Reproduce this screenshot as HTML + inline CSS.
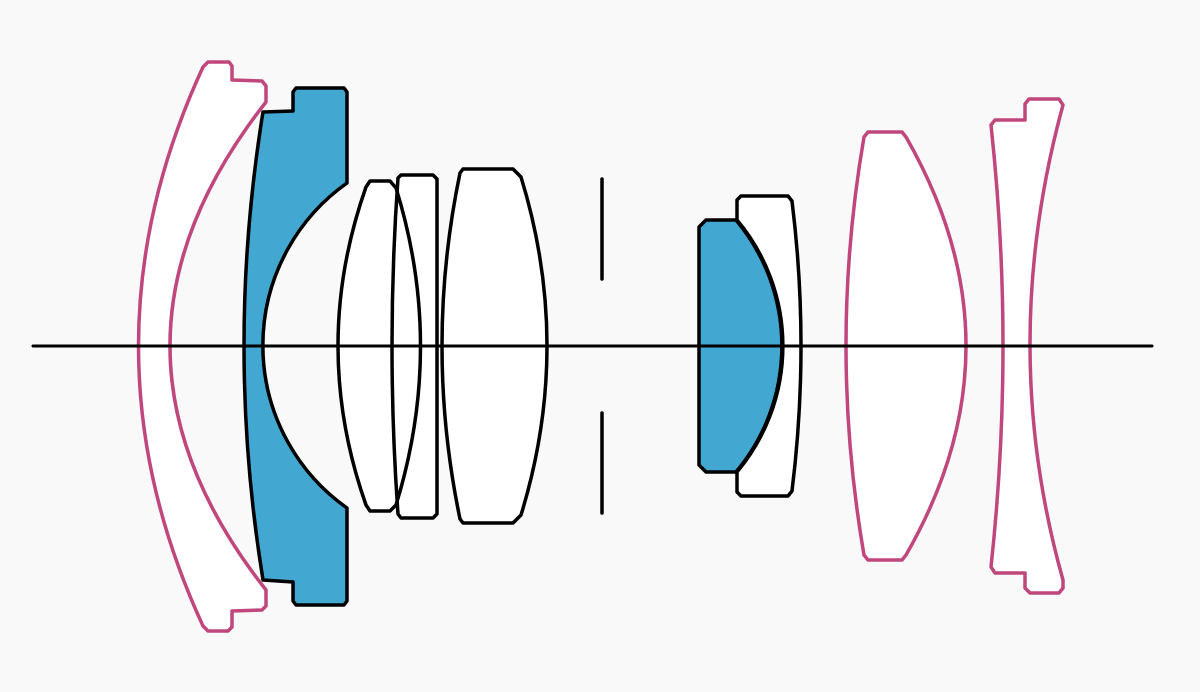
<!DOCTYPE html>
<html><head><meta charset="utf-8"><style>
html,body{margin:0;padding:0;background:#f9f9f9;}
svg{display:block;}
</style></head><body>
<svg width="1200" height="692" viewBox="0 0 1200 692" xmlns="http://www.w3.org/2000/svg">
<rect width="1200" height="692" fill="#f9f9f9"/>
<g stroke-width="3.5" stroke-linejoin="round" fill="#fff">
<!-- Element 1 pink -->
<path stroke="#c0477c" d="M208,62 L229,62 L232,66 L232,80 L262,81 L266,86 L266,102 Q74,346 266,590 L266,606 L262,610 L232,611 L232,627 L228,631 L208,631 L203,626 Q74,346 203,67 Z"/>
<!-- Element 2 blue -->
<path stroke="#000" fill="#42a8d2" d="M296,88 L344,88 L347,92 L347,183 A199,199 0 0 0 347,508 L347,601 L344,605 L296,605 L293,601 L293,582 L263,580 Q225,346 263,112 L293,111 L293,92 Z"/>
<!-- Element 3 & 4 fills -->
<path stroke="none" d="M370,181 L390,181 L396,188 Q445,346 396,505 L390,511 L370,511 L366,505 Q310,346 366,187 Z"/>
<path stroke="none" d="M401,175 L433,175 L437,179 L437,514 L433,518 L401,518 L398,514 Q386,346 398,178 Z"/>
<!-- Element 3 & 4 outlines -->
<path stroke="#000" fill="none" d="M370,181 L390,181 L396,188 Q445,346 396,505 L390,511 L370,511 L366,505 Q310,346 366,187 Z"/>
<path stroke="#000" fill="none" d="M401,175 L433,175 L437,179 L437,514 L433,518 L401,518 L398,514 Q386,346 398,178 Z"/>
<!-- Element 5 -->
<path stroke="#000" d="M463,169 L513,169 L521,177 Q573,346 521,515 L513,523 L463,523 L460,519 Q424,346 460,173 Z"/>
<!-- Element 7 -->
<path stroke="#000" d="M741,196 L788,196 L792,201 Q810,346 792,491 L788,496 L741,496 L737,492 L737,472 A196,196 0 0 0 737,220 L737,200 Z"/>
<!-- Element 6 blue -->
<path stroke="#000" fill="#42a8d2" d="M706,220 L736,220 A196,196 0 0 1 736,472 L706,472 L699,465 L699,227 Z"/>
<!-- Element 8 pink -->
<path stroke="#c0477c" d="M868,132 L902,132 L906,137 Q1026,346 906,555 L902,560 L868,560 L864,555 Q828,346 864,137 Z"/>
<!-- Element 9 pink -->
<path stroke="#c0477c" d="M1029,99 L1059,99 L1063,105 Q997,346 1063,580 L1063,588 L1059,593 L1030,593 L1025,588 L1025,573 L995,573 L991,567 Q1015,346 991,125 L995,120 L1025,120 L1025,104 Z"/>
</g>
<g stroke="#000" stroke-width="3.5" stroke-linecap="round">
<line x1="602" y1="179" x2="602" y2="279"/>
<line x1="602" y1="413" x2="602" y2="513"/>
<line x1="33" y1="346" x2="1152" y2="346" stroke-width="3"/>
</g>
</svg>
</body></html>
